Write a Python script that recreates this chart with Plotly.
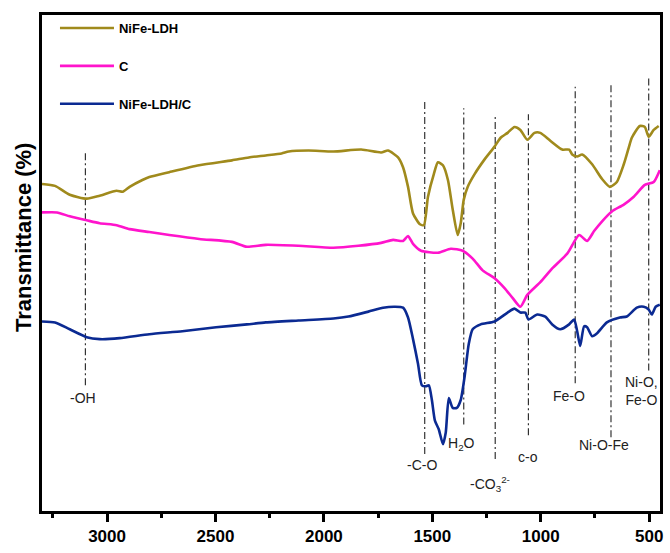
import plotly.graph_objects as go

# ---------------- data (wavenumber cm-1, transmittance a.u.) ----------------
ldh_wn = [3300, 3240, 3172, 3094, 3034, 2956, 2928, 2896, 2837, 2805, 2713, 2575, 2424, 2346,
          2268, 2195, 2162, 2071, 1956, 1828, 1736, 1704, 1658, 1635, 1612, 1589, 1557, 1539,
          1520, 1493, 1474, 1451, 1428, 1406, 1383, 1369, 1355, 1337, 1305, 1259, 1213, 1185,
          1153, 1121, 1094, 1062, 1029, 1002, 956, 901, 869, 855, 832, 809, 763, 717, 681,
          649, 617, 594, 580, 543, 520, 502, 479, 456]
ldh_t = [66.6, 66.2, 64.4, 63.6, 64.2, 65.2, 65.0, 66.0, 67.4, 68.0, 69.0, 70.4, 71.4, 72.0,
         72.4, 72.8, 73.2, 73.4, 73.2, 73.6, 73.0, 73.4, 72.0, 70.0, 66.0, 60.6, 58.4, 58.2,
         64.0, 68.6, 71.0, 70.4, 67.4, 61.4, 56.2, 58.6, 63.4, 66.0, 68.6, 71.6, 74.2, 76.0,
         77.0, 78.2, 77.6, 75.6, 77.0, 77.0, 75.4, 73.6, 73.6, 72.6, 72.2, 72.6, 70.6, 67.6, 66.0,
         67.0, 70.6, 74.0, 76.0, 78.4, 78.2, 76.2, 77.6, 78.4]

c_wn = [3300, 3231, 3172, 3094, 3034, 2956, 2896, 2805, 2713, 2575, 2424, 2355, 2268, 2117,
        1956, 1841, 1736, 1681, 1635, 1612, 1589, 1552, 1474, 1415, 1360, 1314, 1268, 1213,
        1167, 1130, 1094, 1062, 1002, 947, 878, 823, 786, 754, 717, 672, 617, 571, 520, 479, 451]
c_t = [60.8, 60.8, 60.0, 59.2, 58.6, 58.2, 57.4, 56.8, 56.2, 55.4, 54.8, 53.8, 54.2, 54.0,
       53.6, 54.0, 54.6, 55.2, 55.0, 56.0, 54.4, 53.0, 52.6, 53.4, 53.0, 51.4, 49.0, 47.4,
       45.4, 43.4, 41.6, 44.0, 46.6, 49.4, 52.4, 56.2, 55.0, 57.0, 59.0, 61.0, 62.4, 64.0, 66.4, 67.0, 69.4]

comp_wn = [3300, 3240, 3172, 3094, 3034, 2942, 2805, 2653, 2497, 2355, 2268, 2117, 1956, 1887,
           1795, 1727, 1672, 1635, 1612, 1589, 1566, 1548, 1529, 1516, 1502, 1488, 1470, 1451,
           1438, 1424, 1406, 1387, 1369, 1351, 1332, 1314, 1277, 1213, 1153, 1121, 1094, 1071,
           1057, 1016, 979, 947, 910, 869, 846, 832, 818, 800, 786, 763, 740, 695, 635, 603,
           557, 525, 502, 488, 470, 451]
comp_t = [38.6, 38.4, 37.0, 35.4, 35.0, 35.2, 36.0, 36.6, 37.4, 38.0, 38.4, 38.8, 39.2, 39.6,
          40.6, 41.4, 41.6, 41.4, 39.4, 35.0, 30.0, 25.6, 25.4, 25.6, 22.6, 18.4, 16.6, 13.6,
          16.0, 23.0, 21.0, 21.0, 22.6, 27.4, 34.0, 37.0, 38.0, 38.6, 40.4, 41.2, 40.4, 40.4,
          39.0, 40.0, 39.6, 38.0, 37.0, 38.0, 39.0, 36.6, 33.6, 37.6, 37.4, 35.6, 36.2, 38.4, 39.4, 39.6,
          41.4, 41.6, 41.0, 40.0, 41.6, 42.0]

# band marker lines
band_wn = [3100, 1535, 1355, 1210, 1057, 841, 676, 502]
band_top = [73.4, 83.4, 82.0, 80.8, 80.8, 86.4, 86.8, 88.6]
band_bot = [25.6, 11.6, 17.6, 10.6, 15.4, 26.0, 15.0, 28.6]

# band labels
label_text = ["-OH", "-C-O", "H<sub>2</sub>O", "-CO<sub>3</sub><sup>2-</sup>", "c-o",
              "Fe-O", "Ni-O-Fe", "Ni-O,<br>Fe-O"]
label_wn = [3112, 1548, 1364, 1236, 1057, 869, 708, 534]
label_t = [23.0, 9.4, 13.6, 5.6, 11.0, 23.4, 13.4, 24.5]

series_names = ["NiFe-LDH", "C", "NiFe-LDH/C"]
series_colors = ["#A08A1C", "#FF14CC", "#0B2A92"]

x_ticks = [3000, 2500, 2000, 1500, 1000, 500]
x_minor = [3250, 2750, 2250, 1750, 1250, 750]

FONT = "Arial, Liberation Sans"

# ---------------- figure ----------------
fig = go.Figure()

for wn, top, bot in zip(band_wn, band_top, band_bot):
    fig.add_trace(go.Scatter(
        x=[wn, wn], y=[bot, top], mode="lines",
        line=dict(color="#222222", width=1.1, dash="7px,3px,2px,3px"),
        showlegend=False, hoverinfo="skip"))

for wn, t, name, col in zip([ldh_wn, c_wn, comp_wn], [ldh_t, c_t, comp_t],
                            series_names, series_colors):
    fig.add_trace(go.Scatter(
        x=wn, y=t, mode="lines", name=name, legendgroup=name,
        line=dict(color=col, width=2.6, shape="spline", smoothing=0.6)))

for txt, wn, t in zip(label_text, label_wn, label_t):
    fig.add_annotation(x=wn, y=t, xref="x", yref="y", text=txt, showarrow=False,
                       font=dict(family=FONT, size=14, color="#222222"))

fig.add_annotation(xref="paper", yref="paper", x=-0.031, y=0.552,
                   xanchor="center", yanchor="middle",
                   text="<b>Transmittance (%)</b>", textangle=-90, showarrow=False,
                   font=dict(family=FONT, size=22, color="#000000"))

fig.update_layout(
    width=670, height=553,
    margin=dict(l=42, r=7, t=15, b=33),
    paper_bgcolor="white", plot_bgcolor="white",
    font=dict(family=FONT, color="#000000"),
    showlegend=True,
    legend=dict(x=0.021, y=1.004, xanchor="left", yanchor="top",
                bgcolor="rgba(0,0,0,0)", tracegroupgap=18, itemwidth=54,
                font=dict(size=13, weight="bold", family=FONT)),
)

fig.update_xaxes(range=[3300, 450], tickvals=x_ticks, ticks="outside", ticklen=8, tickwidth=3,
                 tickcolor="black", showline=True, linewidth=3, linecolor="black", mirror=True,
                 showgrid=False, zeroline=False,
                 tickfont=dict(size=17, weight="bold", family=FONT),
                 minor=dict(tickvals=x_minor, ticks="outside",
                            ticklen=4, tickwidth=3, tickcolor="black", showgrid=False))
fig.update_yaxes(range=[0, 101], showticklabels=False, ticks="", showline=True, linewidth=3,
                 linecolor="black", mirror=True, showgrid=False, zeroline=False)

fig.write_html("out.html", config={"displayModeBar": False},
               post_script="document.body.style.margin='0';document.body.style.overflow='hidden';")
